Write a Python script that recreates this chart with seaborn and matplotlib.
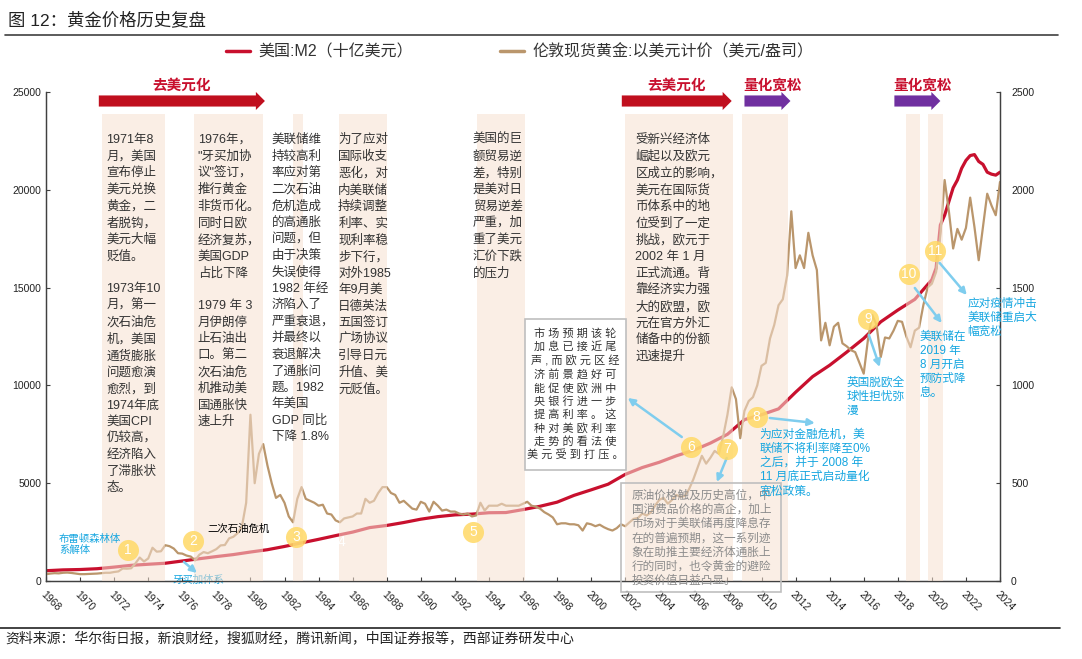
import numpy as np
import pandas as pd
import seaborn as sns
import matplotlib.pyplot as plt
from matplotlib.lines import Line2D
from matplotlib.patches import Rectangle

# 美国:M2（十亿美元）
m2_years = [1968, 1969, 1970, 1971, 1972, 1973, 1974, 1975, 1976, 1977,
            1978, 1979, 1980, 1981, 1982, 1983, 1984, 1985, 1986, 1987,
            1988, 1989, 1990, 1991, 1992, 1993, 1994, 1995, 1996, 1997,
            1998, 1999, 2000, 2001, 2002, 2003, 2004, 2005, 2006, 2007,
            2008, 2009, 2010, 2011, 2012, 2013, 2014, 2015, 2016, 2017,
            2018, 2019, 2020, 2020.25, 2020.5, 2020.75, 2021, 2021.25,
            2021.5, 2021.75, 2022, 2022.25, 2022.5, 2022.75, 2023,
            2023.25, 2023.5, 2023.75, 2024]
m2_values = [525, 568, 587, 628, 711, 801, 856, 908, 1023, 1139,
             1249, 1351, 1481, 1601, 1766, 1950, 2130, 2320, 2500, 2730,
             2840, 2990, 3160, 3290, 3380, 3420, 3490, 3500, 3650, 3820,
             4030, 4380, 4660, 4950, 5450, 5800, 6070, 6400, 6680, 7050,
             7500, 8250, 8500, 8800, 9650, 10450, 11030, 11700, 12400, 13250,
             13850, 14400, 15400, 16000, 18200, 18700, 19400, 20100,
             20500, 21100, 21500, 21750, 21800, 21450, 21300,
             20900, 20800, 20750, 20900]

# 伦敦现货黄金:以美元计价（美元/盎司），按季度
gold_values = [
    35, 38, 40, 39,   42, 43, 41, 38,   35, 35, 36, 37,   38, 40, 42, 42,
    46, 49, 64, 63,   65, 90, 120, 100,  115, 170, 150, 152,  183, 178, 166, 142,
    140, 130, 125, 105,  134, 148, 142, 152,  163, 182, 184, 218,  226, 245, 278, 400,
    850, 500, 650, 700,  590, 500, 425, 440,  400, 330, 300, 420,  480, 420, 410, 400,
    385, 390, 345, 340,  310, 300, 320, 325,  330, 345, 345, 420,  400, 410, 450, 480,
    480, 450, 440, 400,  410, 390, 370, 365,  405, 395, 355, 405,  385, 360, 365, 355,
    355, 345, 340, 345,  330, 335, 400, 360,  385, 385, 385, 395,  385, 385, 385, 385,
    395, 405, 385, 380,  370, 352, 340, 325,  290, 295, 295, 290,  290, 285, 258, 295,
    290, 280, 288, 275,  265, 258, 270, 290,  280, 300, 318, 322,  345, 335, 350, 385,
    415, 425, 395, 415,  440, 430, 435, 470,  520, 580, 640, 600,  630, 665, 650, 740,
    850, 990, 930, 730,  870, 920, 940, 1000,  1100, 1115, 1240, 1310,  1410, 1440, 1560, 1890,
    1600, 1665, 1600, 1780,  1665, 1590, 1230, 1320,  1205, 1300, 1320, 1215,  1200, 1180, 1170, 1115,
    1060, 1235, 1360, 1310,  1145, 1245, 1240, 1280,  1330, 1325, 1250, 1195,  1280, 1295, 1410, 1500,
    1520, 1580, 1770, 2050,  1890, 1700, 1800, 1745,  1805, 1960, 1810, 1640,  1810, 1980, 1920, 1870,
    2040]
gold_years = [1968 + i / 4 for i in range(len(gold_values))]

# 重点事件区间（年份）
band_spans = [(1971.3, 1975.0), (1976.7, 1980.75), (1982.5, 1983.1), (1985.2, 1988.0),
              (1993.3, 1996.1), (2002.0, 2008.3), (2008.85, 2011.55), (2018.5, 2019.3),
              (2019.8, 2020.65)]

phase_labels = ['去美元化', '去美元化', '量化宽松', '量化宽松']
phase_spans = [(1971.1, 1980.85), (2001.8, 2008.25), (2009.0, 2011.7), (2017.8, 2020.5)]
phase_colors = ['#C00F1E', '#C00F1E', '#7030A0', '#7030A0']

col_texts = [
    "1971年8\n月，美国\n宣布停止\n美元兑换\n黄金，二\n者脱钩，\n美元大幅\n贬值。\n\n1973年10\n月，第一\n次石油危\n机，美国\n通货膨胀\n问题愈演\n愈烈，到\n1974年底\n美国CPI\n仍较高，\n经济陷入\n了滞胀状\n态。",
    "1976年，\n\"牙买加协\n议\"签订，\n推行黄金\n非货币化。\n同时日欧\n经济复苏，\n美国GDP\n占比下降\n\n1979 年 3\n月伊朗停\n止石油出\n口。第二\n次石油危\n机推动美\n国通胀快\n速上升",
    "美联储维\n持较高利\n率应对第\n二次石油\n危机造成\n的高通胀\n问题，但\n由于决策\n失误使得\n1982 年经\n济陷入了\n严重衰退，\n并最终以\n衰退解决\n了通胀问\n题。1982\n年美国\nGDP 同比\n下降 1.8%",
    "为了应对\n国际收支\n恶化，对\n内美联储\n持续调整\n利率、实\n现利率稳\n步下行，\n对外1985\n年9月美\n日德英法\n五国签订\n广场协议\n引导日元\n升值、美\n元贬值。",
    "美国的巨\n额贸易逆\n差，特别\n是美对日\n贸易逆差\n严重，加\n重了美元\n汇价下跌\n的压力",
    "受新兴经济体\n崛起以及欧元\n区成立的影响，\n美元在国际货\n币体系中的地\n位受到了一定\n挑战，欧元于\n2002 年 1 月\n正式流通。背\n靠经济实力强\n大的欧盟，欧\n元在官方外汇\n储备中的份额\n迅速提升",
]
col_x = [1971.55, 1976.9, 1981.25, 1985.15, 1993.05, 2002.6]

box1_lines = ["市场预期该轮", "加息已接近尾", "声,而欧元区经", "济前景趋好可", "能促使欧洲中",
              "央银行进一步", "提高利率。这", "种对美欧利率", "走势的看法使", "美元受到打压。"]
box2_text = ("原油价格触及历史高位，中\n国消费品价格的高企，加上\n市场对于美联储再度降息存\n在的普遍预期，这一系列迹\n"
             "象在助推主要经济体通胀上\n行的同时，也令黄金的避险\n投资价值日益凸显。")

event_nums = ['1', '2', '3', '5', '6', '7', '8', '9', '10', '11']
event_x = [1972.8, 1976.63, 1982.67, 1993.06, 2005.85, 2007.96, 2009.72, 2016.24, 2018.65, 2020.17]
event_y = [1585, 2045, 2250, 2505, 6850, 6750, 8380, 13395, 15695, 16870]

sns.set_style('ticks')
plt.rcParams['font.family'] = ['Liberation Sans', 'Noto Sans CJK SC', 'DejaVu Sans']
plt.rcParams['axes.unicode_minus'] = False

red = '#C8102E'
tan = '#BA966C'
blue = '#16A6E0'
lblue = '#7FCDEE'
W, H = 1082, 659

fig = plt.figure(figsize=(10.82, 6.59), dpi=100)
ax = fig.add_axes([46 / W, 1 - 581 / H, (1000 - 46) / W, (581 - 92) / H])
ax2 = ax.twinx()

sns.lineplot(x=m2_years, y=m2_values, ax=ax, color=red, lw=2.3)
sns.lineplot(x=gold_years, y=gold_values, ax=ax2, color=tan, lw=1.6)

ax.set_xlim(1968, 2024)
ax.set_ylim(0, 25000)
ax2.set_ylim(0, 2500)
ax.set_yticks(range(0, 25001, 5000))
ax2.set_yticks(range(0, 2501, 500))
ax.set_xticks(range(1968, 2025, 2))
ax.set_xticklabels([str(y) for y in range(1968, 2025, 2)], rotation=-45, ha='left',
                   rotation_mode='anchor')
for a in (ax, ax2):
    a.tick_params(direction='in', length=3, width=0.8, colors='#404040', labelsize=7.5,
                  labelcolor='#222222')
    a.spines['top'].set_visible(False)
    for s in ('left', 'right', 'bottom'):
        a.spines[s].set_color('#404040')
        a.spines[s].set_linewidth(0.9)
    a.set_xlabel('')
    a.set_ylabel('')
ax.tick_params(axis='x', pad=6)
ax2.tick_params(axis='y', pad=8)

T = ax.transData

# 事件区间（半透明覆盖在曲线之上）
for a, b in band_spans:
    ax2.axvspan(a, b, ymin=0, ymax=0.956, color='#F6E0D0', alpha=0.55, lw=0, zorder=3)

# 阶段箭头
for lab, (a, b), c in zip(phase_labels, phase_spans, phase_colors):
    ax2.annotate('', xy=(b, 24540), xytext=(a, 24540), xycoords=T, textcoords=T,
                 annotation_clip=False, zorder=8,
                 arrowprops=dict(arrowstyle='simple,head_length=0.65,head_width=1.3,tail_width=0.8',
                                 fc=c, ec='none', shrinkA=0, shrinkB=0, mutation_scale=10))
    ax2.text((a + b) / 2 + (0.3 if c == '#7030A0' else 0), 25300, lab, transform=T, ha='center',
             va='center', color='#C8102E', fontsize=10.5, fontweight='bold', zorder=8)

# 各区间文字
for x, t in zip(col_x, col_texts):
    ax2.text(x, 22850, t, transform=T, ha='left', va='top', fontsize=9, color='#333333',
             linespacing=1.48, zorder=6)

# 方框1
ax2.add_patch(Rectangle((1996.1, 5675), 5.94, 13394 - 5675, transform=T, fc='white',
                        ec='#BFBFBF', lw=1.2, zorder=6))
ax2.text(1999.07, 9535, '\n'.join(' '.join(list(l)) for l in box1_lines), transform=T,
         ha='center', va='center', fontsize=8, color='#333333', linespacing=1.3, zorder=7)

# 方框2
ax2.add_patch(Rectangle((2001.74, -562), 9.39, 5010 + 562, transform=T, fill=False,
                        ec='#BFBFBF', lw=1.2, zorder=6, clip_on=False))
ax2.text(2002.39, 4652, box2_text, transform=T, ha='left', va='top', fontsize=8.4,
         color='#8C8C8C', linespacing=1.24, zorder=7)

# 编号圆点
ax2.scatter(event_x, event_y, s=230, color='#FFD966', alpha=0.85, linewidths=0,
            transform=T, zorder=9)
for n, x, y in zip(event_nums, event_x, event_y):
    ax2.text(x, y, n, transform=T, ha='center', va='center', color='white', fontsize=10,
             zorder=10)
ax2.text(1985.37, 1994, '4', transform=T, ha='center', va='center', color='white',
         fontsize=10, zorder=10)

# 蓝色注释与箭头
def blue_arrow(x0, y0, x1, y1):
    ax2.annotate('', xy=(x1, y1), xytext=(x0, y0), xycoords=T, textcoords=T,
                 annotation_clip=False, zorder=8,
                 arrowprops=dict(arrowstyle='-|>', color=lblue, lw=1.8, shrinkA=0, shrinkB=0,
                                 mutation_scale=10))

ax2.text(1968.76, 2420, '布雷顿森林体\n系解体', transform=T, ha='left', va='top', fontsize=7.5,
         color=blue, linespacing=1.2, zorder=8)
ax2.text(1977.45, 2660, '二次石油危机', transform=T, ha='left', va='center', fontsize=7.5,
         color='black', zorder=8)
ax2.text(1975.45, 60, '牙买加体系', transform=T, ha='left', va='center', fontsize=7.5,
         color=blue, zorder=2)
blue_arrow(1976.1, 971, 1976.86, 409)
blue_arrow(2005.32, 7362, 2002.15, 9356)
blue_arrow(2007.96, 6289, 2007.38, 5061)
blue_arrow(2010.49, 8333, 2013.13, 8078)
ax2.text(2009.9, 7771, '为应对金融危机，美\n联储不将利率降至0%\n之后，并于 2008 年\n11 月底正式启动量化\n宽松政策。',
         transform=T, ha='left', va='top', fontsize=8.5, color=blue, linespacing=1.23, zorder=8)
blue_arrow(2016.3, 12577, 2016.94, 10941)
ax2.text(2015.0, 10429, '英国脱欧全\n球性担忧弥\n漫', transform=T, ha='left', va='top',
         fontsize=8.4, color=blue, linespacing=1.23, zorder=8)
blue_arrow(2019.0, 14980, 2020.58, 13190)
ax2.text(2019.3, 12781, '美联储在\n2019 年\n8 月开启\n预防式降\n息。', transform=T, ha='left',
         va='top', fontsize=8.4, color=blue, linespacing=1.23, zorder=8)
blue_arrow(2020.46, 16258, 2022.05, 14622)
ax2.text(2022.1, 14468, '应对疫情冲击\n美联储重启大\n幅宽松', transform=T, ha='left', va='top',
         fontsize=8.4, color=blue, linespacing=1.23, zorder=8)

# 图例
handles = [Line2D([], [], color=red, lw=2.5), Line2D([], [], color=tan, lw=2.5)]
fig.legend(handles, ['美国:M2（十亿美元）', '伦敦现货黄金:以美元计价（美元/盎司）'],
           loc='center left', bbox_to_anchor=(226 / W, 1 - 52 / H), ncol=2, frameon=False,
           fontsize=11.5, handlelength=1.5, handletextpad=0.5, columnspacing=5.5,
           borderaxespad=0, borderpad=0, labelcolor='#333333')

# 标题与来源
fig.text(8 / W, 1 - 20 / H, '图 12：黄金价格历史复盘', fontsize=12.5, va='center', ha='left',
         color='#222222')
fig.add_artist(Line2D([5 / W, 1058 / W], [1 - 35 / H] * 2, color='#404040', lw=1.2))
fig.add_artist(Line2D([0, 1060 / W], [1 - 628 / H] * 2, color='#222222', lw=1.2))
fig.text(5 / W, 1 - 638 / H, '资料来源：华尔街日报，新浪财经，搜狐财经，腾讯新闻，中国证券报等，西部证券研发中心',
         fontsize=10, va='center', ha='left', color='#222222')

fig.savefig('out.png', dpi=100)
